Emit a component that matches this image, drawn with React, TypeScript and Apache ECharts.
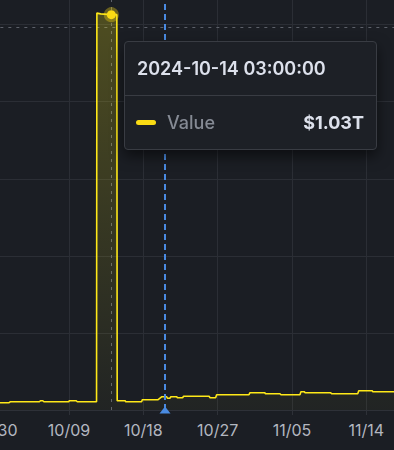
import React, { useEffect, useRef } from 'react';
import * as echarts from 'echarts';

// ---- data (values in billions of USD, times in UTC) ----
const pointTimes: string[] = [
  '2024-09-24 00:00', '2024-10-01 18:00', '2024-10-01 22:00', '2024-10-05 10:00',
  '2024-10-05 13:00', '2024-10-05 20:00', '2024-10-05 23:00', '2024-10-08 23:00',
  '2024-10-09 01:00', '2024-10-09 21:00', '2024-10-10 00:00', '2024-10-12 08:00',
  '2024-10-12 09:00', '2024-10-12 20:00', '2024-10-14 03:00', '2024-10-14 19:00',
  '2024-10-14 20:00', '2024-10-15 19:00', '2024-10-15 21:00', '2024-10-17 19:00',
  '2024-10-17 21:00', '2024-10-19 19:00', '2024-10-20 06:00', '2024-10-20 20:00',
  '2024-10-20 22:00', '2024-10-21 05:00', '2024-10-21 08:00', '2024-10-22 01:00',
  '2024-10-22 03:00', '2024-10-22 18:00', '2024-10-22 21:00', '2024-10-25 23:00',
  '2024-10-26 02:00', '2024-10-26 18:00', '2024-10-26 21:00', '2024-10-30 19:00',
  '2024-10-30 22:00', '2024-11-01 17:00', '2024-11-01 19:00', '2024-11-03 13:00',
  '2024-11-03 16:00', '2024-11-05 23:00', '2024-11-06 02:00', '2024-11-06 11:00',
  '2024-11-06 14:00', '2024-11-09 16:00', '2024-11-09 19:00', '2024-11-12 23:00',
  '2024-11-13 02:00', '2024-11-14 17:00', '2024-11-14 19:00', '2024-11-22 00:00',
];
const pointValues: number[] = [
  18.9, 18.9, 21.5, 21.5,
  24.1, 24.1, 21.5, 21.5,
  24.1, 24.1, 21.5, 21.5,
  1030, 1028, 1026, 1026,
  24.1, 24.1, 21.5, 21.5,
  26.7, 26.7, 34.5, 34.5,
  30.4, 30.4, 34.5, 34.5,
  31.9, 31.9, 35.6, 35.6,
  31.9, 31.9, 39.7, 39.7,
  44.9, 44.9, 42.3, 42.3,
  39.7, 39.7, 47.5, 47.5,
  44.9, 44.9, 42.3, 42.3,
  50.1, 50.1, 47.5, 47.5,
];
const xAxisStart = '2024-09-21 00:00';
const xAxisEnd = '2024-11-23 00:00';
const xTickStepDays = 9;
const yAxisMin = 0;
const yAxisMax = 1200;
const yAxisStep = 200;
const markerTime = '2024-10-20 15:00';
const seriesName = 'Value';

const YELLOW = '#fadb14';
const BG = '#1b1e24';
// the visible window shows a crop of a larger chart
const OFF_X = 100;
const OFF_Y = 70;
const INNER_W = 574;
const INNER_H = 520;

function toTs(s: string): number {
  const [d, t = '00:00'] = s.split(' ');
  const [Y, M, D] = d.split('-').map(Number);
  const [h, m] = t.split(':').map(Number);
  return Date.UTC(Y, M - 1, D, h, m);
}
const pad = (n: number) => String(n).padStart(2, '0');
function fmtFull(ts: number): string {
  const d = new Date(ts);
  return `${d.getUTCFullYear()}-${pad(d.getUTCMonth() + 1)}-${pad(d.getUTCDate())} ${pad(d.getUTCHours())}:${pad(d.getUTCMinutes())}:${pad(d.getUTCSeconds())}`;
}
function fmtShort(ts: number): string {
  const d = new Date(ts);
  return `${pad(d.getUTCMonth() + 1)}/${pad(d.getUTCDate())}`;
}
function fmtMoney(b: number): string {
  if (b >= 1000) return `$${(b / 1000).toFixed(2)}T`;
  return `$${b.toFixed(2)}B`;
}

export default function App() {
  const ref = useRef<HTMLDivElement>(null);
  useEffect(() => {
    if (!ref.current) return;
    const chart = echarts.init(ref.current, undefined, { renderer: 'svg' });
    const data = pointTimes.map((t, i) => [toTs(t), pointValues[i]]);
    chart.setOption({
      animation: false,
      backgroundColor: BG,
      textStyle: { fontFamily: 'Inter, sans-serif' },
      grid: { left: 20.34, right: 33.34, top: 17.6, bottom: 40 },
      tooltip: {
        trigger: 'axis',
        alwaysShowContent: true,
        transitionDuration: 0,
        showDelay: 0,
        position: [124 + OFF_X, 41 + OFF_Y],
        padding: 0,
        backgroundColor: '#1d2026',
        borderColor: '#393c43',
        borderWidth: 1,
        extraCssText: 'border-radius:4px;box-shadow:0 6px 14px rgba(0,0,0,0.55);width:251px;',
        axisPointer: {
          type: 'cross',
          z: 1,
          label: { show: false },
          lineStyle: { color: '#5d616a', width: 1, type: [3, 5] },
          crossStyle: { color: '#5d616a', width: 1, type: [3, 5] },
        },
        formatter: (params: any) => {
          const p = Array.isArray(params) ? params[0] : params;
          const ts = p.value[0];
          const v = p.value[1];
          return `<div style="font-family:Inter,sans-serif;">
            <div style="height:53px;display:flex;align-items:center;padding:0 12px;border-bottom:1px solid #393c43;font-size:18px;font-weight:600;color:#dde1ec;">${fmtFull(ts)}</div>
            <div style="height:53px;display:flex;align-items:center;padding:0 12px 0 11px;">
              <span style="display:inline-block;width:20px;height:5px;border-radius:3px;background:${YELLOW};margin-right:11px;"></span>
              <span style="font-size:18px;color:#858a94;font-weight:500;">${p.seriesName}</span>
              <span style="margin-left:auto;font-size:18px;font-weight:700;color:#dde1ec;">${fmtMoney(v)}</span>
            </div>
          </div>`;
        },
      },
      xAxis: {
        type: 'value',
        min: toTs(xAxisStart),
        max: toTs(xAxisEnd),
        interval: xTickStepDays * 86400000,
        axisLine: { show: true, lineStyle: { color: '#2e3138', width: 1 } },
        axisTick: { show: true, length: 5, lineStyle: { color: '#2e3138' } },
        splitLine: { show: true, lineStyle: { color: '#2b2e35', width: 1 } },
        axisLabel: {
          color: '#b3b7c0',
          fontSize: 16,
          margin: 12,
          showMinLabel: false,
          showMaxLabel: false,
          fontFamily: 'Inter, sans-serif',
          formatter: (v: number) => fmtShort(v),
        },
      },
      yAxis: {
        type: 'value',
        min: yAxisMin,
        max: yAxisMax,
        interval: yAxisStep,
        axisLine: { show: false },
        axisTick: { show: false },
        axisLabel: { show: false },
        splitLine: { show: true, lineStyle: { color: '#2b2e35', width: 1 } },
      },
      series: [
        {
          name: seriesName,
          type: 'line',
          z: 3,
          data,
          showSymbol: false,
          symbol: 'circle',
          symbolSize: 9,
          itemStyle: { color: YELLOW },
          lineStyle: { color: '#f2d416', width: 1.6 },
          areaStyle: {
            color: new echarts.graphic.LinearGradient(0, 0, 0, 1, [
              { offset: 0, color: 'rgba(250,219,20,0.32)' },
              { offset: 1, color: 'rgba(250,219,20,0.04)' },
            ]),
          },
          emphasis: {
            scale: false,
            lineStyle: { width: 1.6 },
            itemStyle: { color: YELLOW, borderColor: 'rgba(250,219,20,0.35)', borderWidth: 6 },
          },
          markLine: {
            silent: true,
            symbol: ['triangle', 'none'],
            symbolSize: [11, 7],
            symbolRotate: 0,
            symbolOffset: [0, 3.5],
            label: { show: false },
            lineStyle: { color: '#4a8be2', width: 2, type: [6, 4] },
            data: [{ xAxis: toTs(markerTime) }],
          },
        },
      ],
    });
    chart.dispatchAction({ type: 'showTip', x: 110 + OFF_X, y: 27 + OFF_Y });
    return () => chart.dispose();
  }, []);
  return (
    <div style={{ position: 'fixed', left: 0, top: 0, width: 394, height: 450, overflow: 'hidden', background: BG }}>
      <div
        ref={ref}
        style={{ position: 'absolute', left: -OFF_X, top: -OFF_Y, width: INNER_W, height: INNER_H }}
      />
    </div>
  );
}
